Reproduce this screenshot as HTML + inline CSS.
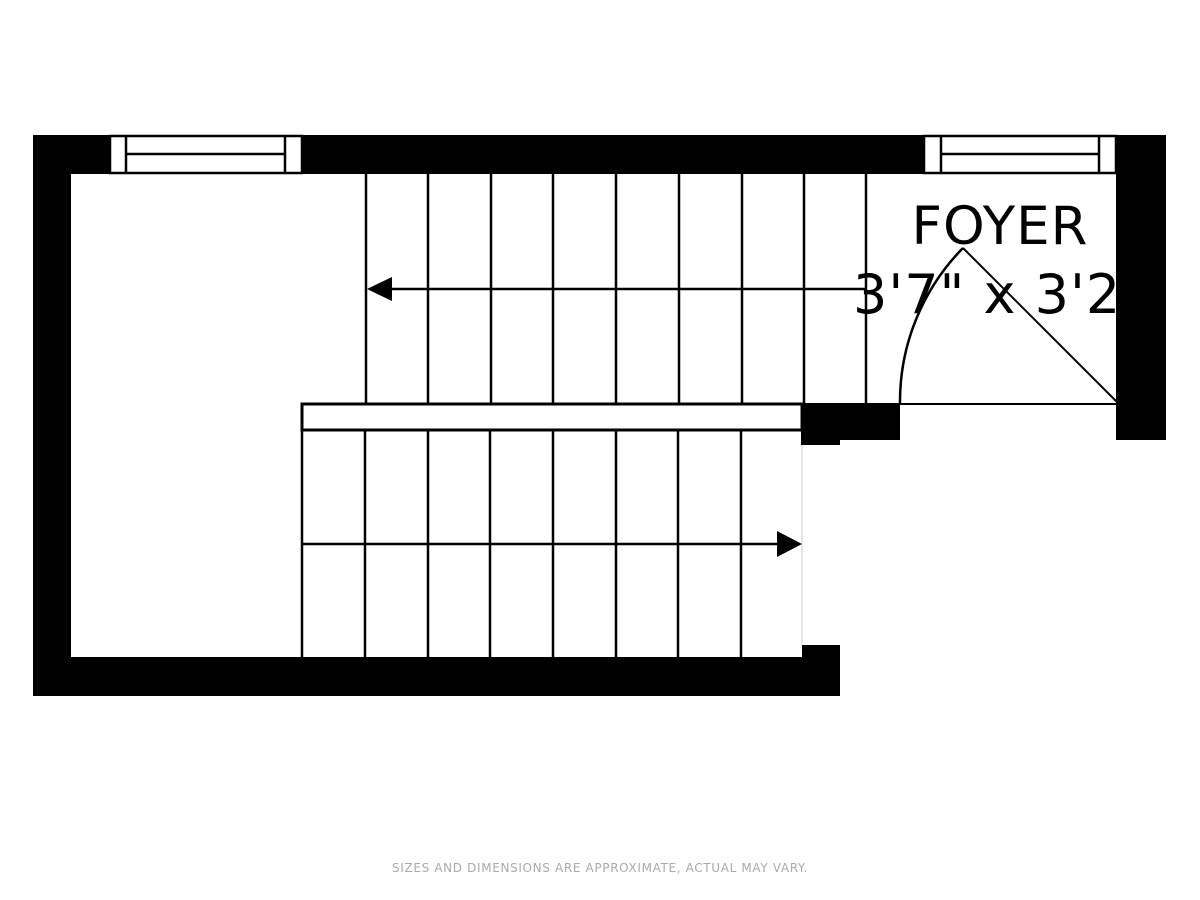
<!DOCTYPE html>
<html><head><meta charset="utf-8"><style>
html,body{margin:0;padding:0;background:#fff;}
svg{display:block;}
</style></head><body>
<svg width="1200" height="900" viewBox="0 0 1200 900" xmlns="http://www.w3.org/2000/svg">
<rect width="1200" height="900" fill="#fff"/>
<g stroke="#000" stroke-width="2.5" fill="none">
<line x1="366" y1="174" x2="366" y2="403"/>
<line x1="428" y1="174" x2="428" y2="403"/>
<line x1="491" y1="174" x2="491" y2="403"/>
<line x1="553" y1="174" x2="553" y2="403"/>
<line x1="616" y1="174" x2="616" y2="403"/>
<line x1="679" y1="174" x2="679" y2="403"/>
<line x1="742" y1="174" x2="742" y2="403"/>
<line x1="804" y1="174" x2="804" y2="403"/>
<line x1="866" y1="174" x2="866" y2="403"/>
<line x1="380" y1="289" x2="866" y2="289"/>
<rect x="302" y="404" width="500" height="26" stroke-width="3"/>
<line x1="302" y1="430" x2="302" y2="657"/>
<line x1="365" y1="430" x2="365" y2="657"/>
<line x1="428" y1="430" x2="428" y2="657"/>
<line x1="490" y1="430" x2="490" y2="657"/>
<line x1="553" y1="430" x2="553" y2="657"/>
<line x1="616" y1="430" x2="616" y2="657"/>
<line x1="678" y1="430" x2="678" y2="657"/>
<line x1="741" y1="430" x2="741" y2="657"/>
<line x1="302" y1="544" x2="790" y2="544"/>
<line x1="802" y1="430" x2="802" y2="645" stroke="#ccc" stroke-width="1"/>
<line x1="1118" y1="403" x2="963" y2="248" stroke-width="2"/>
<path d="M963 248 A219 219 0 0 0 900 403" stroke-width="2.5"/>
<line x1="900" y1="404" x2="1118" y2="404" stroke-width="2"/>
</g>
<polygon points="367,289 392,277 392,301" fill="#000"/>
<polygon points="802,544 777,531 777,557" fill="#000"/>
<g font-family="'DejaVu Sans','Liberation Sans',sans-serif" fill="#000">
<text x="1000" y="244" font-size="53" letter-spacing="1" text-anchor="middle">FOYER</text>
<text x="853" y="313" font-size="54" letter-spacing="1">3'7" x 3'2"</text>
</g>
<g fill="#000">
<rect x="33" y="135" width="77" height="39"/>
<rect x="302" y="135" width="622" height="39"/>
<rect x="1116" y="135" width="50" height="305"/>
<rect x="33" y="135" width="38" height="561"/>
<rect x="33" y="657" width="807" height="39"/>
<rect x="802" y="645" width="38" height="51"/>
<rect x="801" y="403" width="99" height="37"/>
<rect x="801" y="403" width="39" height="42"/>
</g>
<g stroke="#000" stroke-width="2.5" fill="#fff">
<rect x="110" y="136" width="192" height="37"/>
<line x1="126" y1="136" x2="126" y2="173"/>
<line x1="285" y1="136" x2="285" y2="173"/>
<line x1="126" y1="154" x2="285" y2="154"/>
<rect x="924" y="136" width="192" height="37"/>
<line x1="941" y1="136" x2="941" y2="173"/>
<line x1="1099" y1="136" x2="1099" y2="173"/>
<line x1="941" y1="154" x2="1099" y2="154"/>
</g>
<text x="600" y="872" font-family="'DejaVu Sans','Liberation Sans',sans-serif" font-size="12" letter-spacing="0.65" fill="#aaa" text-anchor="middle">SIZES AND DIMENSIONS ARE APPROXIMATE, ACTUAL MAY VARY.</text>
</svg>
</body></html>
